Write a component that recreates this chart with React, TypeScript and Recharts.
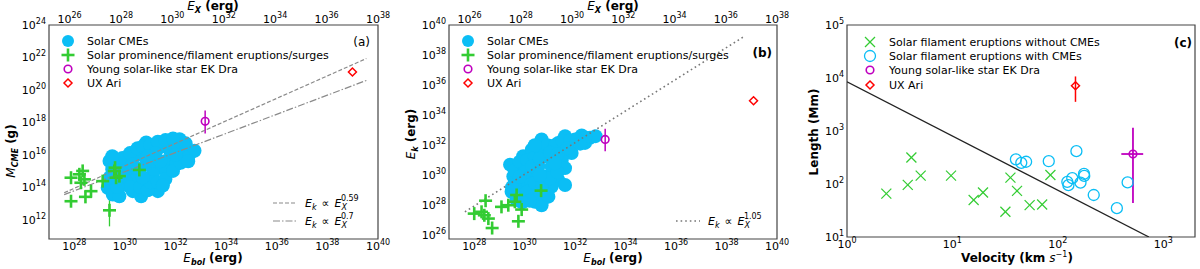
import React from "react";
import { ScatterChart, Scatter, XAxis, YAxis, ErrorBar, ReferenceArea } from "recharts";

const FONT = "'DejaVu Sans', sans-serif";
const CYAN = "#0BBEF5";
const GREEN = "#33CC33";
const MAGENTA = "#BF00BF";

// ---- panel (a): log10 E_bol (erg), log10 M_CME (g)
const cmeMass: [number, number][] = [
  [29.39, 15.61], [29.32, 13.96], [29.52, 13.54], [29.78, 13.44], [29.98, 14.17],
  [29.78, 15.0], [30.04, 15.41], [30.31, 15.82], [30.57, 16.03], [30.84, 16.75],
  [31.1, 16.24], [31.36, 16.44], [31.63, 16.55], [31.89, 16.65], [32.16, 16.96],
  [32.35, 16.44], [32.55, 16.03], [32.75, 16.24], [32.29, 15.93], [31.89, 15.82],
  [31.63, 15.61], [31.36, 15.2], [31.1, 14.79], [30.84, 14.17], [30.64, 13.44],
  [30.31, 13.75], [31.3, 13.75], [30.57, 15.0], [30.31, 14.58], [30.84, 15.41],
  [31.1, 15.61], [29.65, 15.61], [29.58, 14.37], [30.04, 14.37], [30.44, 15.2],
  [31.63, 14.99], [32.02, 15.41], [29.9, 15.8], [30.2, 16.1], [30.5, 16.4],
  [30.7, 16.5], [31.0, 16.6], [31.3, 16.8], [31.6, 16.9], [31.9, 17.0],
  [30.0, 15.0], [30.2, 14.0], [30.6, 14.0], [30.9, 13.8], [31.0, 14.3],
  [31.3, 14.3], [31.6, 14.5], [31.9, 15.0], [32.2, 15.5], [32.5, 15.6],
  [30.7, 14.6], [31.4, 15.6], [31.8, 16.2], [32.1, 16.4], [30.3, 15.4],
  [29.5, 15.1], [29.7, 14.0], [29.4, 14.6], [31.2, 16.1], [30.9, 15.9],
  [32.4, 16.7], [32.0, 16.0], [29.5, 15.9], [31.5, 14.1],
];
const promMass: [number, number][] = [
  [27.87, 14.58], [28.2, 14.79], [28.33, 15.0], [28.4, 14.48], [28.26, 14.27],
  [28.66, 13.75], [28.44, 13.4], [27.87, 13.13], [29.12, 14.37], [29.39, 12.57],
  [29.58, 15.0], [29.65, 14.58], [29.78, 14.68], [30.57, 15.06], [29.61, 15.2],
];
// one prominence with a mass error bar: [logE, logM, logLow, logHigh]
const promMassErr = [29.39, 12.57, 11.58, 13.54];
const ekDraMass = [33.17, 18.06, 17.31, 18.72];
const uxAriMass = [38.99, 21.1];
const fitMassDashed: [number, number][] = [[27.6, 13.65], [39.54, 21.93]];
const fitMassDashDot: [number, number][] = [[27.6, 13.54], [39.54, 20.58]];

// ---- panel (b): log10 E_bol (erg), log10 E_k (erg)
const cmeEnergy: [number, number][] = [
  [29.42, 30.7], [29.55, 29.91], [29.48, 28.9], [29.68, 28.34], [30.01, 28.57],
  [30.41, 28.23], [30.67, 28.0], [29.94, 31.26], [30.28, 31.7], [30.67, 32.38],
  [31.0, 31.93], [31.33, 32.15], [31.6, 32.6], [32.0, 32.38], [32.26, 32.65],
  [32.59, 32.49], [32.81, 32.6], [32.39, 32.15], [31.86, 31.48], [31.47, 31.03],
  [31.6, 30.47], [31.33, 29.69], [31.6, 29.35], [31.07, 29.24], [30.8, 29.91],
  [30.54, 30.58], [30.28, 30.13], [30.01, 29.69], [29.75, 29.24], [30.8, 31.26],
  [31.07, 30.58], [31.2, 31.48], [30.28, 29.01], [30.54, 28.79], [30.94, 28.57],
  [29.6, 29.5], [29.6, 30.3], [29.8, 30.9], [30.1, 31.0], [30.4, 31.2],
  [30.6, 31.8], [30.9, 32.0], [31.2, 32.0], [31.5, 32.3], [31.8, 32.3],
  [32.1, 32.4], [32.4, 32.5], [30.0, 30.2], [30.3, 30.6], [30.6, 31.1],
  [31.0, 31.5], [31.3, 31.4], [30.1, 28.9], [30.4, 29.5], [30.7, 29.4],
  [31.0, 29.8], [31.3, 30.2], [30.9, 28.7], [30.2, 28.3], [29.9, 28.2],
  [31.2, 30.8], [30.6, 30.0], [29.5, 29.2], [31.7, 31.8], [32.2, 32.1],
  [30.4, 32.0], [29.8, 29.9],
];
const promEnergy: [number, number][] = [
  [28.0, 27.44], [28.29, 27.56], [28.4, 27.33], [28.45, 28.3], [28.56, 27.11],
  [28.71, 26.48], [29.08, 27.89], [29.35, 28.0], [29.61, 28.23], [29.68, 28.68],
  [29.88, 27.71], [29.75, 26.93], [30.65, 28.97],
];
const ekDraEnergy = [33.19, 32.38, 31.59, 33.09];
const uxAriEnergy = [39.07, 34.96];
const fitEnergyDotted: [number, number][] = [[27.63, 27.56], [38.74, 39.28]];

// ---- panel (c): velocity (km/s), length (Mm)
const noCmeVel = [2.36, 4.08, 3.77, 5.0, 9.7, 15.9, 19.5, 31.8, 35.5, 41, 54, 71, 85];
const noCmeLen = [66, 316, 96, 144, 144, 50, 69, 30, 132, 74, 40, 41, 148];
const withCmeVel = [40, 45, 50, 82, 150, 123, 126, 137, 164, 177, 178, 219, 363, 459];
const withCmeLen = [292, 251, 263, 269, 417, 110, 95, 129, 106, 155, 142, 62, 35, 107];
// [v, L, vLow, vHigh, LLow, LHigh]
const ekDraLen = [516, 368, 400, 645, 44, 1150];
const uxAriLen = [147, 7160, 147, 147, 3550, 10700];
const boundaryLine: [number, number][] = [[1, 8500], [731, 10]];

// axis ticks
const eBolTicks = [1e28, 1e30, 1e32, 1e34, 1e36, 1e38, 1e40];
const eXTicks = [1e26, 1e28, 1e30, 1e32, 1e34, 1e36, 1e38];
const massTicks = [1e12, 1e14, 1e16, 1e18, 1e20, 1e22, 1e24];
const ekTicks = [1e26, 1e28, 1e30, 1e32, 1e34, 1e36, 1e38, 1e40];
const velTicks = [1, 10, 100, 1000];
const lenTicks = [10, 100, 1000, 10000, 100000];

const fromLog = (arr: [number, number][]) => arr.map(([a, b]) => ({ x: 10 ** a, y: 10 ** b }));
const withErrY = ([a, b, lo, hi]: number[]) => [
  { x: 10 ** a, y: 10 ** b, ey: [10 ** b - 10 ** lo, 10 ** hi - 10 ** b] },
];
const zipXY = (xs: number[], ys: number[]) => xs.map((x, i) => ({ x, y: ys[i] }));

const PowTick = ({ x, y, payload, side }: any) => {
  const exp = Math.round(Math.log10(payload.value));
  const common = { fontFamily: FONT, fontSize: 11, fill: "#000" };
  if (side === "left") {
    return (
      <text x={x} y={y + 4} textAnchor="end" {...common}>
        10<tspan dy={-5} fontSize={8}>{exp}</tspan>
      </text>
    );
  }
  const yy = side === "top" ? y + 1 : y + 8;
  return (
    <text x={x} y={yy} textAnchor="middle" {...common}>
      10<tspan dy={-5} fontSize={8}>{exp}</tspan>
    </text>
  );
};
const leftTick = (p: any) => <PowTick {...p} side="left" />;
const bottomTick = (p: any) => <PowTick {...p} side="bottom" />;
const topTick = (p: any) => <PowTick {...p} side="top" />;

const Blob = (p: any) => <circle cx={p.cx} cy={p.cy} r={7} fill={CYAN} />;
const Plus = (p: any) => (
  <g stroke={GREEN} strokeWidth={2.6}>
    <line x1={p.cx - 6.5} x2={p.cx + 6.5} y1={p.cy} y2={p.cy} />
    <line x1={p.cx} x2={p.cx} y1={p.cy - 6.5} y2={p.cy + 6.5} />
  </g>
);
const Cross = (p: any) => (
  <g stroke={GREEN} strokeWidth={1.2}>
    <line x1={p.cx - 5} x2={p.cx + 5} y1={p.cy - 5} y2={p.cy + 5} />
    <line x1={p.cx - 5} x2={p.cx + 5} y1={p.cy + 5} y2={p.cy - 5} />
  </g>
);
const OpenCyan = (p: any) => <circle cx={p.cx} cy={p.cy} r={5.5} fill="none" stroke={CYAN} strokeWidth={1.3} />;
const OpenMag = (p: any) => <circle cx={p.cx} cy={p.cy} r={3.8} fill="none" stroke={MAGENTA} strokeWidth={1.6} />;
const Diamond = (p: any) => (
  <path
    d={`M${p.cx},${p.cy - 4} L${p.cx + 4},${p.cy} L${p.cx},${p.cy + 4} L${p.cx - 4},${p.cy} Z`}
    fill="none"
    stroke="red"
    strokeWidth={1.5}
  />
);
const NoDot = () => <g />;

const axisCommon = { type: "number" as const, scale: "log" as const, allowDataOverflow: true, tickLine: false, axisLine: false, tickSize: 0, tickMargin: 3 };
const frame = { fill: "none", stroke: "#444", strokeWidth: 1.2, fillOpacity: 0, ifOverflow: "visible" as const };

const Sub = ({ t }: { t: string }) => (
  <tspan fontSize={8} dy={3} fontStyle="italic">{t}</tspan>
);

export default function App() {
  const M_LO = 10 ** 10.8;
  const EK_LO = 10 ** 25.75;
  const EX_LO = 10 ** 25.2;
  return (
    <div style={{ position: "absolute", left: 0, top: 0, width: 1200, height: 269, background: "#fff", fontFamily: FONT }}>
      {/* (a) */}
      <div style={{ position: "absolute", left: 0, top: 0 }}>
        <ScatterChart width={400} height={269} margin={{ top: 0, right: 22, bottom: 0, left: 0 }}>
          <XAxis dataKey="x" {...axisCommon} domain={[1e27, 1e40]} ticks={eBolTicks} height={30} tick={bottomTick} />
          <XAxis xAxisId="top" orientation="top" dataKey="x" {...axisCommon} domain={[EX_LO, 1e38]} ticks={eXTicks} height={25} tick={topTick} />
          <YAxis dataKey="y" {...axisCommon} domain={[M_LO, 1e24]} ticks={massTicks} width={49} tick={leftTick} />
          <ReferenceArea x1={1e27} x2={1e40} y1={M_LO} y2={1e24} {...frame} />
          <Scatter data={fromLog(cmeMass)} shape={Blob} isAnimationActive={false} />
          <Scatter data={fromLog(fitMassDashed)} shape={NoDot} line={{ stroke: "#8a8a8a", strokeWidth: 1.2, strokeDasharray: "4 2" }} isAnimationActive={false} />
          <Scatter data={fromLog(fitMassDashDot)} shape={NoDot} line={{ stroke: "#8a8a8a", strokeWidth: 1.2, strokeDasharray: "7 2 1.5 2" }} isAnimationActive={false} />
          <Scatter data={withErrY(promMassErr)} shape={NoDot} isAnimationActive={false}>
            <ErrorBar dataKey="ey" direction="y" width={0} stroke={GREEN} strokeWidth={1.3} />
          </Scatter>
          <Scatter data={fromLog(promMass)} shape={Plus} isAnimationActive={false} />
          <Scatter data={withErrY(ekDraMass)} shape={OpenMag} isAnimationActive={false}>
            <ErrorBar dataKey="ey" direction="y" width={0} stroke={MAGENTA} strokeWidth={1.5} />
          </Scatter>
          <Scatter data={fromLog([uxAriMass as [number, number]])} shape={Diamond} isAnimationActive={false} />
        </ScatterChart>
      </div>

      {/* (b) */}
      <div style={{ position: "absolute", left: 400, top: 0 }}>
        <ScatterChart width={400} height={269} margin={{ top: 0, right: 23, bottom: 0, left: 0 }}>
          <XAxis dataKey="x" {...axisCommon} domain={[1e27, 1e40]} ticks={eBolTicks} height={30} tick={bottomTick} />
          <XAxis xAxisId="top" orientation="top" dataKey="x" {...axisCommon} domain={[EX_LO, 1e38]} ticks={eXTicks} height={25} tick={topTick} />
          <YAxis dataKey="y" {...axisCommon} domain={[EK_LO, 1e40]} ticks={ekTicks} width={49} tick={leftTick} />
          <ReferenceArea x1={1e27} x2={1e40} y1={EK_LO} y2={1e40} {...frame} />
          <Scatter data={fromLog(cmeEnergy)} shape={Blob} isAnimationActive={false} />
          <Scatter data={fromLog(fitEnergyDotted)} shape={NoDot} line={{ stroke: "#777", strokeWidth: 1.6, strokeDasharray: "1.6 3" }} isAnimationActive={false} />
          <Scatter data={fromLog(promEnergy)} shape={Plus} isAnimationActive={false} />
          <Scatter data={withErrY(ekDraEnergy)} shape={OpenMag} isAnimationActive={false}>
            <ErrorBar dataKey="ey" direction="y" width={0} stroke={MAGENTA} strokeWidth={1.5} />
          </Scatter>
          <Scatter data={fromLog([uxAriEnergy as [number, number]])} shape={Diamond} isAnimationActive={false} />
        </ScatterChart>
      </div>

      {/* (c) */}
      <div style={{ position: "absolute", left: 800, top: 0 }}>
        <ScatterChart width={400} height={269} margin={{ top: 25, right: 5, bottom: 0, left: 0 }}>
          <XAxis dataKey="x" {...axisCommon} domain={[1, 2000]} ticks={velTicks} height={32} tick={bottomTick} />
          <YAxis dataKey="y" {...axisCommon} domain={[10, 1e5]} ticks={lenTicks} width={47} tick={leftTick} />
          <ReferenceArea x1={1} x2={2000} y1={10} y2={1e5} {...frame} />
          <Scatter data={boundaryLine.map(([x, y]) => ({ x, y }))} shape={NoDot} line={{ stroke: "#222", strokeWidth: 1.3 }} isAnimationActive={false} />
          <Scatter data={zipXY(noCmeVel, noCmeLen)} shape={Cross} isAnimationActive={false} />
          <Scatter data={zipXY(withCmeVel, withCmeLen)} shape={OpenCyan} isAnimationActive={false} />
          <Scatter
            data={[{ x: ekDraLen[0], y: ekDraLen[1], ex: [ekDraLen[0] - ekDraLen[2], ekDraLen[3] - ekDraLen[0]], ey: [ekDraLen[1] - ekDraLen[4], ekDraLen[5] - ekDraLen[1]] }]}
            shape={OpenMag}
            isAnimationActive={false}
          >
            <ErrorBar dataKey="ex" direction="x" width={0} stroke={MAGENTA} strokeWidth={1.8} />
            <ErrorBar dataKey="ey" direction="y" width={0} stroke={MAGENTA} strokeWidth={1.8} />
          </Scatter>
          <Scatter
            data={[{ x: uxAriLen[0], y: uxAriLen[1], ey: [uxAriLen[1] - uxAriLen[4], uxAriLen[5] - uxAriLen[1]] }]}
            shape={Diamond}
            isAnimationActive={false}
          >
            <ErrorBar dataKey="ey" direction="y" width={0} stroke="red" strokeWidth={1.5} />
          </Scatter>
        </ScatterChart>
      </div>

      {/* legends, titles, panel letters */}
      <svg width={1200} height={269} style={{ position: "absolute", left: 0, top: 0, pointerEvents: "none" }} fontFamily={FONT}>
        {[0, 400].map((ox) => (
          <g key={ox} fontSize={11}>
            <circle cx={ox + 68} cy={41} r={6} fill={CYAN} />
            <text x={ox + 87} y={45}>Solar CMEs</text>
            <Plus cx={ox + 68} cy={55} />
            <text x={ox + 87} y={59}>Solar prominence/filament eruptions/surges</text>
            <OpenMag cx={ox + 68} cy={69} />
            <text x={ox + 87} y={73}>Young solar-like star EK Dra</text>
            <Diamond cx={ox + 68} cy={83} />
            <text x={ox + 87} y={87}>UX Ari</text>
            <text x={ox + 213} y={10} textAnchor="middle" fontWeight="bold" fontSize={12}>
              <tspan fontStyle="italic" fontWeight="normal">E</tspan><Sub t="X" /><tspan dy={-3}> (erg)</tspan>
            </text>
            <text x={ox + 213} y={262} textAnchor="middle" fontWeight="bold" fontSize={12}>
              <tspan fontStyle="italic" fontWeight="normal">E</tspan><Sub t="bol" /><tspan dy={-3}> (erg)</tspan>
            </text>
          </g>
        ))}
        <text x={370} y={46} textAnchor="end" fontSize={12}>(a)</text>
        <text x={772} y={57} textAnchor="end" fontSize={12} fontWeight="bold">(b)</text>
        <text transform="translate(15,151) rotate(-90)" textAnchor="middle" fontWeight="bold" fontSize={12}>
          <tspan fontStyle="italic" fontWeight="normal">M</tspan><Sub t="CME" /><tspan dy={-3}> (g)</tspan>
        </text>
        <text transform="translate(415,134) rotate(-90)" textAnchor="middle" fontWeight="bold" fontSize={12}>
          <tspan fontStyle="italic" fontWeight="normal">E</tspan><Sub t="k" /><tspan dy={-3}> (erg)</tspan>
        </text>

        {/* fit legends (a) */}
        <line x1={273} x2={297} y1={203} y2={203} stroke="#8a8a8a" strokeWidth={1.2} strokeDasharray="4 2" />
        <text x={305} y={207} fontSize={11}>
          <tspan fontStyle="italic">E</tspan><Sub t="k" /><tspan dy={-3} dx={5}>∝</tspan>
          <tspan dx={5} fontStyle="italic">E</tspan><Sub t="X" /><tspan fontSize={8} dy={-9} dx={-6}>0.59</tspan>
        </text>
        <line x1={273} x2={297} y1={221} y2={221} stroke="#8a8a8a" strokeWidth={1.2} strokeDasharray="7 2 1.5 2" />
        <text x={305} y={225} fontSize={11}>
          <tspan fontStyle="italic">E</tspan><Sub t="k" /><tspan dy={-3} dx={5}>∝</tspan>
          <tspan dx={5} fontStyle="italic">E</tspan><Sub t="X" /><tspan fontSize={8} dy={-9} dx={-6}>0.7</tspan>
        </text>

        {/* fit legend (b) */}
        <line x1={676} x2={700} y1={221} y2={221} stroke="#777" strokeWidth={1.6} strokeDasharray="1.6 3" />
        <text x={708} y={225} fontSize={11}>
          <tspan fontStyle="italic">E</tspan><Sub t="k" /><tspan dy={-3} dx={5}>∝</tspan>
          <tspan dx={5} fontStyle="italic">E</tspan><Sub t="X" /><tspan fontSize={8} dy={-9} dx={-6}>1.05</tspan>
        </text>

        {/* panel (c) */}
        <g fontSize={11}>
          <Cross cx={870} cy={42} />
          <text x={889} y={46}>Solar filament eruptions without CMEs</text>
          <OpenCyan cx={870} cy={56} />
          <text x={889} y={60}>Solar filament eruptions with CMEs</text>
          <OpenMag cx={870} cy={70} />
          <text x={889} y={74}>Young solar-like star EK Dra</text>
          <Diamond cx={870} cy={85} />
          <text x={889} y={89}>UX Ari</text>
        </g>
        <text x={1192} y={47} textAnchor="end" fontSize={12} fontWeight="bold">(c)</text>
        <text x={1017} y={262} textAnchor="middle" fontWeight="bold" fontSize={12}>
          Velocity (km <tspan fontStyle="italic" fontWeight="normal">s</tspan><tspan fontSize={8} dy={-5} fontWeight="normal">−1</tspan><tspan dy={5}>)</tspan>
        </text>
        <text transform="translate(818,132) rotate(-90)" textAnchor="middle" fontWeight="bold" fontSize={12}>
          Length (Mm)
        </text>
      </svg>
    </div>
  );
}
